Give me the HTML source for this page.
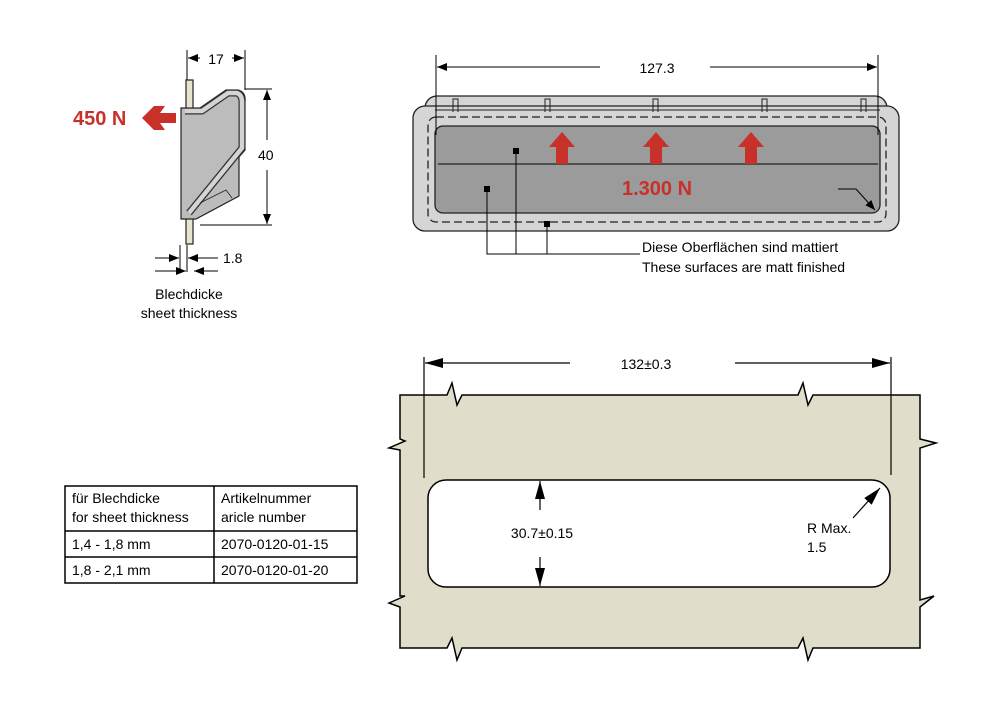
<!DOCTYPE html>
<html><head><meta charset="utf-8"><style>body{margin:0;background:#fff}svg{display:block}text{font-family:"Liberation Sans",sans-serif}</style></head><body>
<svg width="1000" height="720" viewBox="0 0 1000 720">
<defs>
<marker id="a" markerWidth="10" markerHeight="8" refX="10" refY="4" orient="auto" markerUnits="userSpaceOnUse"><path d="M0,0 L10,4 L0,8z" fill="#000"/></marker>
<marker id="b" markerWidth="18" markerHeight="10" refX="18" refY="5" orient="auto" markerUnits="userSpaceOnUse"><path d="M0,0 L18,5 L0,10z" fill="#000"/></marker>
</defs>
<!-- left profile -->
<g stroke="#222" stroke-width="1.2">
<rect x="186" y="80" width="7" height="32" fill="#e8e4d0"/>
<rect x="186" y="212" width="7" height="32" fill="#e8e4d0"/>
<path d="M181,108 L200,108 L226,90 L238,90 Q246,92 245,102 L245,150 L239,157 L239,196 L196,219 L181,219 Z" fill="#bcbcbc"/>
<path d="M185,111 L202,111 L228,93 L237,93 Q242,95 242,102 L242,148 L189,213" fill="none" stroke="#333" stroke-width="7" stroke-linejoin="round"/>
<path d="M185,111 L202,111 L228,93 L237,93 Q242,95 242,102 L242,148 L189,213" fill="none" stroke="#d4d4d4" stroke-width="4.5" stroke-linejoin="round"/>
<path d="M200,203 L226,190 L232,198" fill="none" stroke-width="0.8"/>
</g>
<g stroke="#000" stroke-width="1">
<line x1="187" y1="50" x2="187" y2="80"/><line x1="245" y1="50" x2="245" y2="90"/>
<line x1="200" y1="58" x2="188" y2="58" marker-end="url(#a)"/><line x1="232" y1="58" x2="244" y2="58" marker-end="url(#a)"/>
<line x1="245" y1="89" x2="272" y2="89"/><line x1="200" y1="225" x2="272" y2="225"/>
<line x1="267" y1="140" x2="267" y2="90" marker-end="url(#a)"/><line x1="267" y1="170" x2="267" y2="224" marker-end="url(#a)"/>
<line x1="180" y1="245" x2="180" y2="272"/><line x1="187" y1="245" x2="187" y2="272"/>
<line x1="155" y1="258" x2="179" y2="258" marker-end="url(#a)"/><line x1="218" y1="258" x2="188" y2="258" marker-end="url(#a)"/>
<line x1="155" y1="271" x2="186" y2="271" marker-end="url(#a)"/><line x1="218" y1="271" x2="194" y2="271" marker-end="url(#a)"/>
</g>
<text x="216" y="64" font-size="14" text-anchor="middle">17</text>
<text x="258" y="160" font-size="14">40</text>
<text x="223" y="263" font-size="14">1.8</text>
<text x="189" y="299" font-size="14" text-anchor="middle">Blechdicke</text>
<text x="189" y="318" font-size="14" text-anchor="middle">sheet thickness</text>
<text x="73" y="125" font-size="20" font-weight="bold" fill="#c8302a">450 N</text>
<path d="M176,113 L160,113 L165,106 L154,106 L142,118 L154,130 L165,130 L160,123 L176,123Z" fill="#c8302a"/>
<!-- top view -->
<g stroke="#222" stroke-width="1.3">
<rect x="425" y="96" width="462" height="120" rx="12" fill="#d5d5d5"/>
<rect x="413" y="106" width="486" height="125" rx="12" fill="#d5d5d5"/>
<rect x="428" y="117" width="458" height="105" rx="8" fill="none" stroke-dasharray="8,4"/>
<rect x="435" y="126" width="445" height="87" rx="8" fill="#9b9b9b"/>
<line x1="438" y1="164" x2="878" y2="164"/>
<path d="M453,112 v-13 h5 v13 M545,112 v-13 h5 v13 M653,112 v-13 h5 v13 M762,112 v-13 h5 v13 M861,112 v-13 h5 v13" fill="none" stroke-width="1"/>
<line x1="435" y1="110" x2="880" y2="110" stroke-width="1"/>
</g>
<g fill="#c8302a">
<path d="M562,132 L575,147 L568,147 L568,164 L556,164 L556,147 L549,147Z"/>
<path d="M656,132 L669,147 L662,147 L662,164 L650,164 L650,147 L643,147Z"/>
<path d="M751,132 L764,147 L757,147 L757,164 L745,164 L745,147 L738,147Z"/>
</g>
<text x="657" y="195" font-size="20" font-weight="bold" fill="#c8302a" text-anchor="middle">1.300 N</text>
<line x1="838" y1="189" x2="856" y2="189" stroke="#000"/><line x1="856" y1="189" x2="875" y2="210" stroke="#000" marker-end="url(#a)"/>
<g stroke="#000" stroke-width="1">
<line x1="436" y1="55" x2="436" y2="135"/><line x1="878" y1="55" x2="878" y2="135"/>
<line x1="600" y1="67" x2="437" y2="67" marker-end="url(#a)"/><line x1="710" y1="67" x2="877" y2="67" marker-end="url(#a)"/>
<polyline points="487,189 487,254 640,254" fill="none"/>
<line x1="516" y1="151" x2="516" y2="254"/><line x1="547" y1="224" x2="547" y2="254"/>
</g>
<rect x="484" y="186" width="6" height="6"/><rect x="513" y="148" width="6" height="6"/><rect x="544" y="221" width="6" height="6"/>
<text x="657" y="73" font-size="14" text-anchor="middle">127.3</text>
<text x="642" y="252" font-size="14">Diese Oberflächen sind mattiert</text>
<text x="642" y="272" font-size="14">These surfaces are matt finished</text>
<!-- plate -->
<path d="M400,395 L447,395 L452,383 L457,405 L462,395 L798,395 L803,383 L808,405 L813,395 L920,395 L920,439 L936,443 L920,448 L920,600 L934,596 L920,607 L920,648 L813,648 L808,660 L803,638 L798,648 L462,648 L457,660 L452,638 L447,648 L400,648 L400,607 L389,603 L405,596 L400,596 L400,450 L389,448 L405,441 L400,439Z" fill="#e0ddca" stroke="#000" stroke-width="1.5" stroke-linejoin="miter"/>
<rect x="428" y="480" width="462" height="107" rx="18" fill="#fff" stroke="#000" stroke-width="1.5"/>
<g stroke="#000" stroke-width="1.2">
<line x1="424" y1="357" x2="424" y2="478"/><line x1="891" y1="357" x2="891" y2="475"/>
<line x1="570" y1="363" x2="425" y2="363" marker-end="url(#b)"/><line x1="735" y1="363" x2="890" y2="363" marker-end="url(#b)"/>
<line x1="540" y1="510" x2="540" y2="481" marker-end="url(#b)"/><line x1="540" y1="557" x2="540" y2="586" marker-end="url(#b)"/>
<line x1="853" y1="518" x2="880" y2="488" marker-end="url(#b)"/>
</g>
<text x="646" y="369" font-size="14" text-anchor="middle">132±0.3</text>
<text x="542" y="538" font-size="14" text-anchor="middle">30.7±0.15</text>
<text x="807" y="533" font-size="14">R Max.</text>
<text x="807" y="552" font-size="14">1.5</text>
<!-- table -->
<g stroke="#000" stroke-width="1.5" fill="none">
<rect x="65" y="486" width="292" height="97"/>
<line x1="214" y1="486" x2="214" y2="583"/><line x1="65" y1="531" x2="357" y2="531"/><line x1="65" y1="557" x2="357" y2="557"/>
</g>
<g font-size="14">
<text x="72" y="503">für Blechdicke</text><text x="72" y="522">for sheet thickness</text>
<text x="221" y="503">Artikelnummer</text><text x="221" y="522">aricle number</text>
<text x="72" y="549">1,4 - 1,8 mm</text><text x="221" y="549">2070-0120-01-15</text>
<text x="72" y="575">1,8 - 2,1 mm</text><text x="221" y="575">2070-0120-01-20</text>
</g>
</svg>
</body></html>
